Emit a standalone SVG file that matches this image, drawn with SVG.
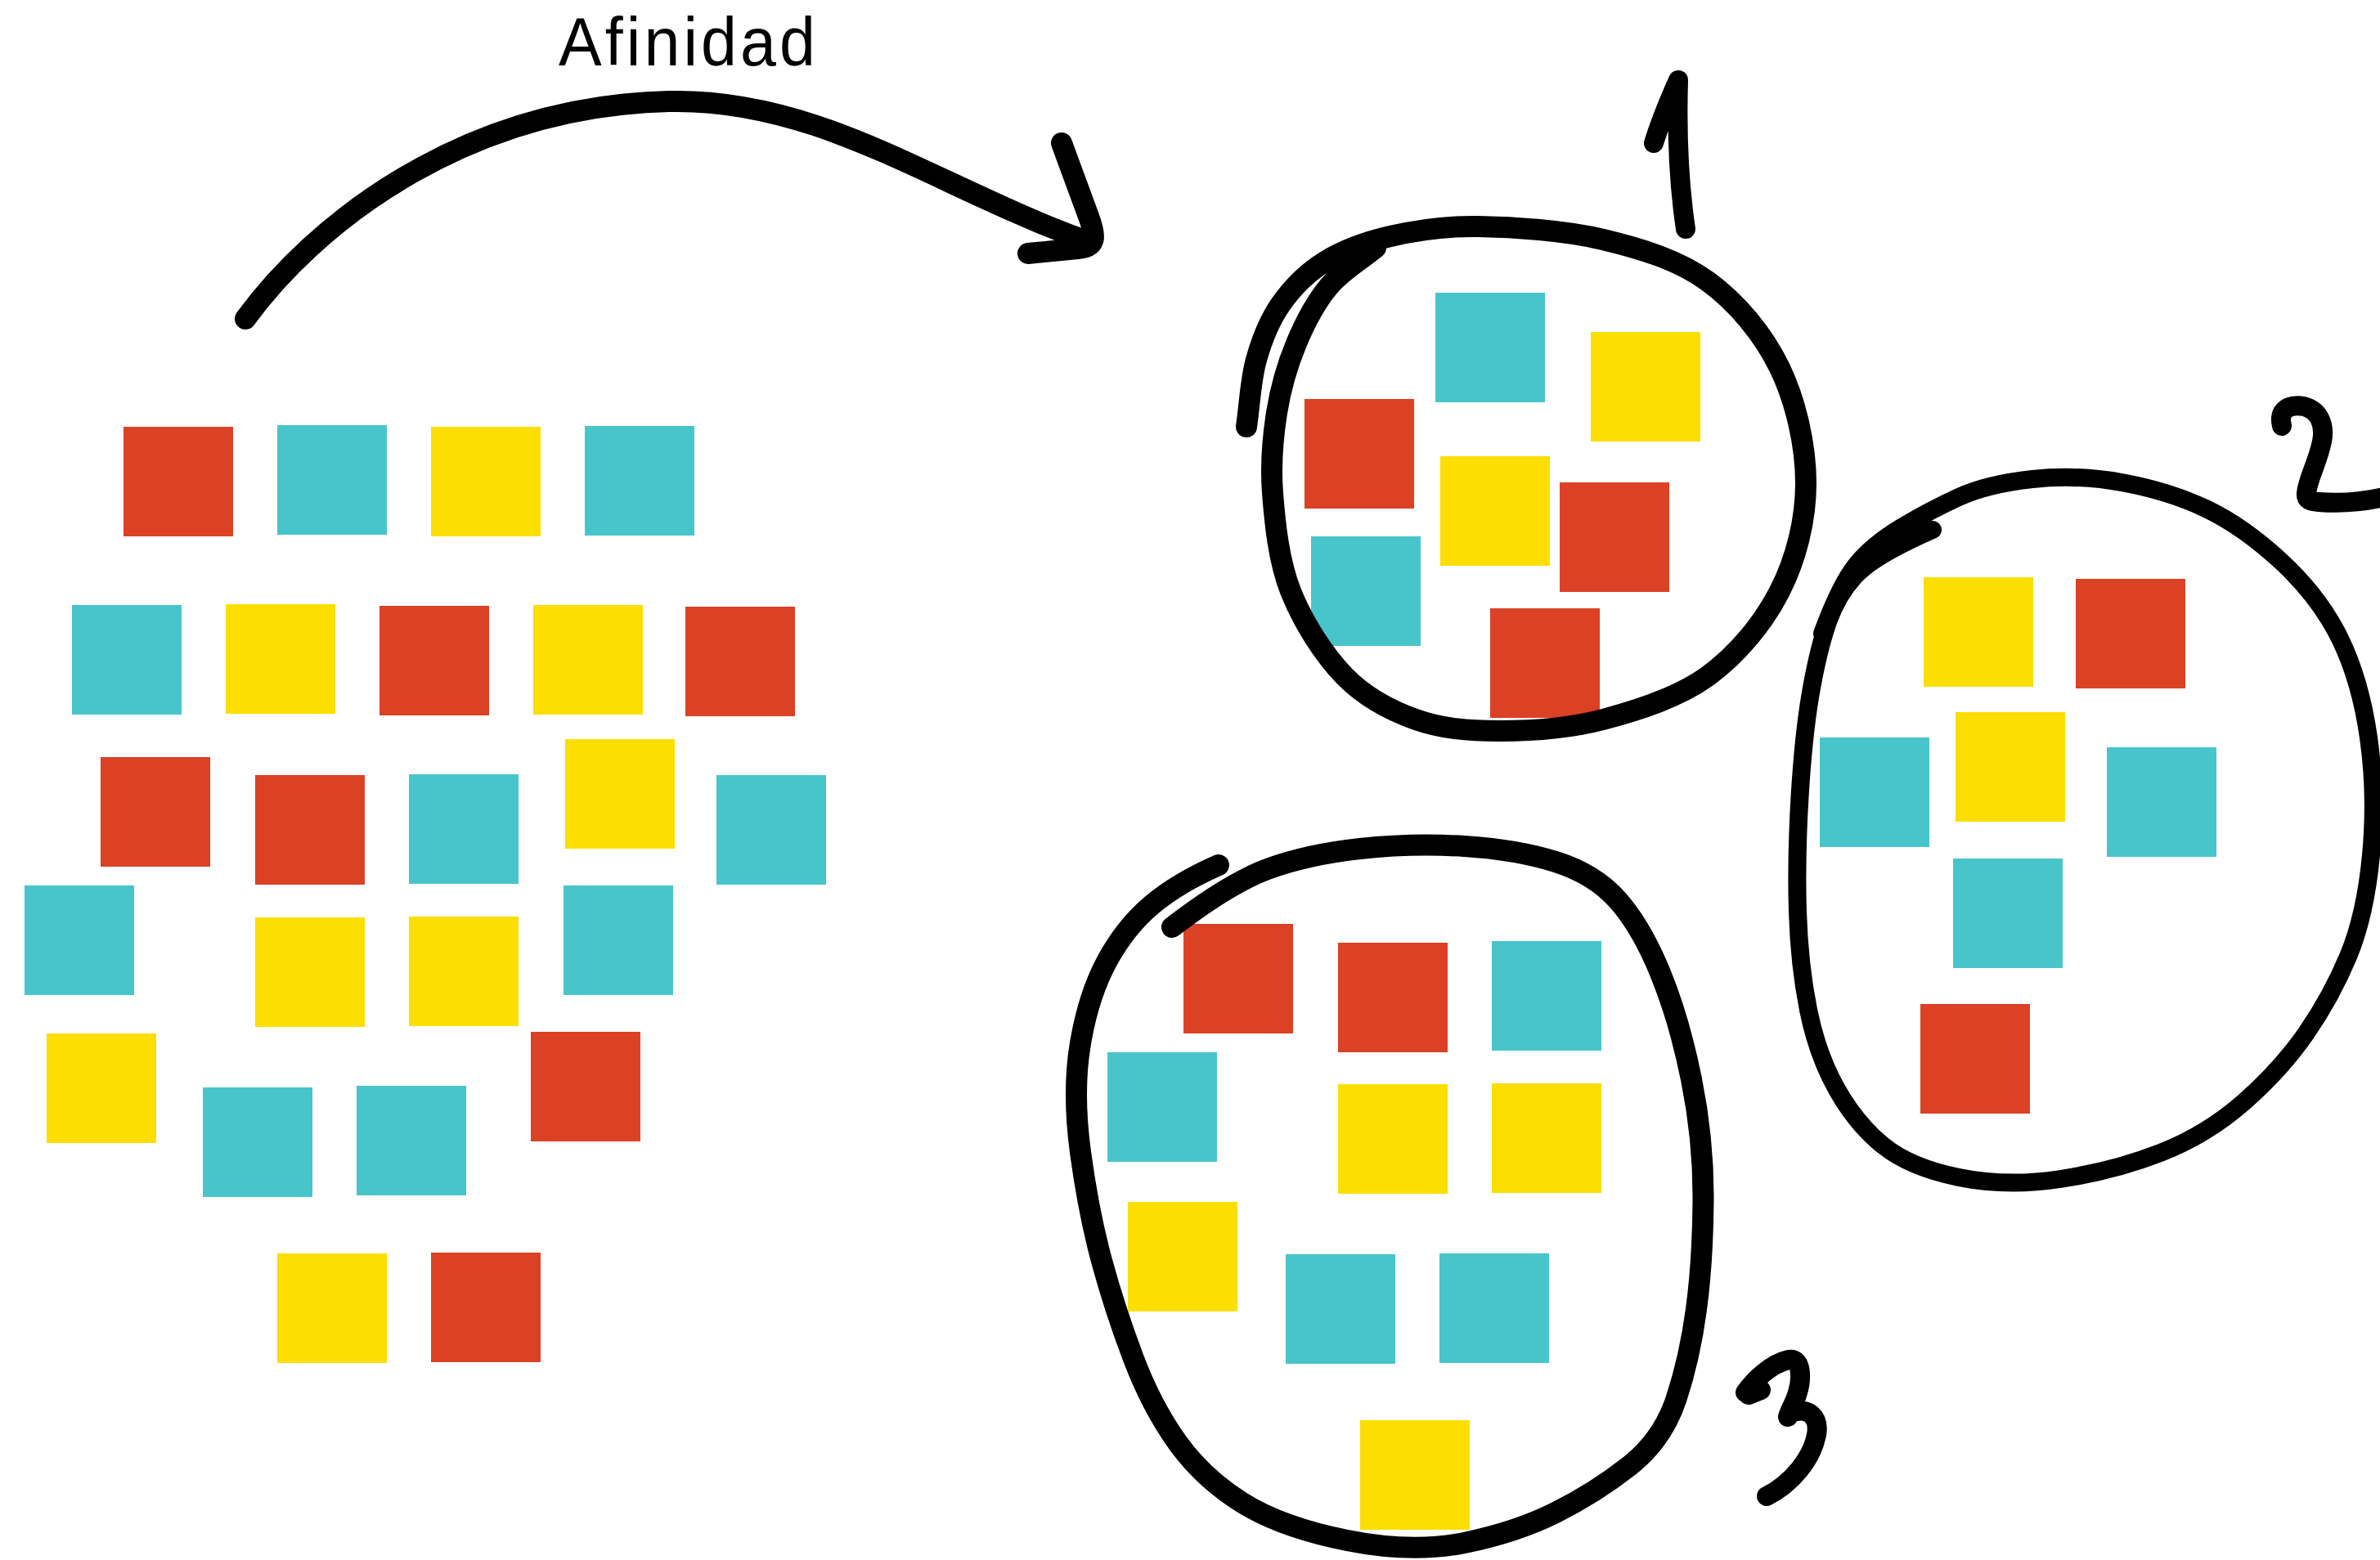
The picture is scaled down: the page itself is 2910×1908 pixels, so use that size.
<svg xmlns="http://www.w3.org/2000/svg" width="2910" height="1908" viewBox="0 0 2910 1908">
<style>
.r{fill:#DB4125}
.c{fill:#48C5CB}
.y{fill:#FCDE00}
.ink{fill:none;stroke:#000;stroke-linecap:round;stroke-linejoin:round}
.t{font-family:"Liberation Sans",Arial,sans-serif;font-size:84px;fill:#000}
</style>
<rect x="0" y="0" width="2910" height="1908" fill="#fff"/>
<text class="t" transform="scale(0.94,1)" x="726.6" y="80" textLength="334" lengthAdjust="spacing">Afinidad</text>

<g id="unsorted">
<rect class="r" x="151" y="522" width="134" height="134"/>
<rect class="c" x="339" y="520" width="134" height="134"/>
<rect class="y" x="527" y="522" width="134" height="134"/>
<rect class="c" x="715" y="521" width="134" height="134"/>
<rect class="c" x="88" y="740" width="134" height="134"/>
<rect class="y" x="276" y="739" width="134" height="134"/>
<rect class="r" x="464" y="741" width="134" height="134"/>
<rect class="y" x="652" y="740" width="134" height="134"/>
<rect class="r" x="838" y="742" width="134" height="134"/>
<rect class="r" x="123" y="926" width="134" height="134"/>
<rect class="r" x="312" y="948" width="134" height="134"/>
<rect class="c" x="500" y="947" width="134" height="134"/>
<rect class="y" x="691" y="904" width="134" height="134"/>
<rect class="c" x="876" y="948" width="134" height="134"/>
<rect class="c" x="30" y="1083" width="134" height="134"/>
<rect class="y" x="312" y="1122" width="134" height="134"/>
<rect class="y" x="500" y="1121" width="134" height="134"/>
<rect class="c" x="689" y="1083" width="134" height="134"/>
<rect class="y" x="57" y="1264" width="134" height="134"/>
<rect class="c" x="248" y="1330" width="134" height="134"/>
<rect class="c" x="436" y="1328" width="134" height="134"/>
<rect class="r" x="649" y="1262" width="134" height="134"/>
<rect class="y" x="339" y="1533" width="134" height="134"/>
<rect class="r" x="527" y="1532" width="134" height="134"/>
</g>

<g id="group1">
<rect class="c" x="1755" y="358" width="134" height="134"/>
<rect class="y" x="1945" y="406" width="134" height="134"/>
<rect class="r" x="1595" y="488" width="134" height="134"/>
<rect class="y" x="1761" y="558" width="134" height="134"/>
<rect class="r" x="1907" y="590" width="134" height="134"/>
<rect class="c" x="1603" y="656" width="134" height="134"/>
<rect class="r" x="1822" y="744" width="134" height="134"/>
<path id="loop1" class="ink" stroke-width="26" d="M1524,522 C1528,494.7 1529,465 1536,440 C1543,415 1552,392 1566,372 C1580,352 1597.7,333.8 1620,320 C1642.3,306.2 1668.8,296.2 1700,289 C1731.2,281.8 1763.7,276.3 1807,277 C1850.3,277.7 1913.2,281.8 1960,293 C2006.8,304.2 2052,317.8 2088,344 C2124,370.2 2156,408.8 2176,450 C2196,491.2 2208,545.5 2208,591 C2208,636.5 2196,683.7 2176,723 C2156,762.3 2124,800.8 2088,827 C2052,853.2 2002.5,868.8 1960,880 C1917.5,891.2 1871.2,894 1833,894 C1794.8,894 1762.5,891.2 1731,880 C1699.5,868.8 1669.5,853.2 1644,827 C1618.5,800.8 1592.7,760.3 1578,723 C1563.3,685.7 1558.8,639.3 1556,603 C1553.2,566.7 1556.2,535.5 1561,505 C1565.8,474.5 1574.3,445.8 1585,420 C1595.7,394.2 1608.8,369.5 1625,350 C1641.2,330.5 1663,318.7 1682,303"/>
<path id="num1" class="ink" stroke-width="24" d="M2022,175 Q2033,140 2052,98 Q2049,200 2061,280"/>
</g>

<g id="group2">
<rect class="y" x="2352" y="706" width="134" height="134"/>
<rect class="r" x="2538" y="708" width="134" height="134"/>
<rect class="c" x="2225" y="902" width="134" height="134"/>
<rect class="y" x="2391" y="871" width="134" height="134"/>
<rect class="c" x="2576" y="914" width="134" height="134"/>
<rect class="c" x="2388" y="1050" width="134" height="134"/>
<rect class="r" x="2348" y="1228" width="134" height="134"/>
<path id="loop2" class="ink" stroke-width="22" d="M2363,648 Q2290,680 2267.5,705 Q2245,730 2233.5,765 Q2222,800 2213.5,850 Q2205,900 2200.5,975 Q2196,1050 2198,1115 Q2200,1180 2211,1235 Q2222,1290 2246,1332.5 Q2270,1375 2303,1401.5 Q2336,1428 2395,1440 Q2454,1452 2519.5,1442 Q2585,1432 2641.5,1410 Q2698,1388 2743.5,1348 Q2789,1308 2819.5,1264 Q2850,1220 2871,1170 Q2892,1120 2899,1046 Q2906,972 2896,902 Q2886,832 2861,781 Q2836,730 2789.5,687 Q2743,644 2698,622.5 Q2653,601 2596.5,590.5 Q2540,580 2485,586 Q2430,592 2395,608 Q2360,624 2325,645 Q2290,666 2270,690.5 Q2250,715 2228,775"/>
<path id="num2" class="ink" stroke-width="24" d="M2790,521 C2785,500 2800,494 2817,497 C2836,502 2843,520 2839,540 C2834,565 2822,585 2820,603 C2819,612 2825,613 2835,614 C2860,616 2885,615 2915,608"/>
</g>

<g id="group3">
<rect class="r" x="1447" y="1130" width="134" height="134"/>
<rect class="r" x="1636" y="1153" width="134" height="134"/>
<rect class="c" x="1824" y="1151" width="134" height="134"/>
<rect class="c" x="1354" y="1287" width="134" height="134"/>
<rect class="y" x="1636" y="1326" width="134" height="134"/>
<rect class="y" x="1824" y="1325" width="134" height="134"/>
<rect class="y" x="1379" y="1470" width="134" height="134"/>
<rect class="c" x="1572" y="1534" width="134" height="134"/>
<rect class="c" x="1760" y="1533" width="134" height="134"/>
<rect class="y" x="1663" y="1737" width="134" height="134"/>
<path id="loop3" class="ink" stroke-width="26" d="M1490,1058 Q1440,1080 1408,1107 Q1376,1134 1353.5,1175.5 Q1331,1217 1321,1276 Q1311,1335 1321,1409 Q1331,1483 1347,1542 Q1363,1601 1385.5,1660.5 Q1408,1720 1439.5,1764 Q1471,1808 1519,1838 Q1567,1868 1647,1884 Q1727,1900 1790.5,1887 Q1854,1874 1902,1850 Q1950,1826 1991.5,1793.5 Q2033,1761 2049.5,1711 Q2066,1661 2074,1601.5 Q2082,1542 2082.5,1468 Q2083,1394 2068,1320 Q2053,1246 2030,1190 Q2007,1134 1978.5,1101.5 Q1950,1069 1902,1054 Q1854,1039 1790.5,1035 Q1727,1031 1663,1038 Q1599,1045 1551,1062.5 Q1503,1080 1433,1134"/>
<path id="num3" class="ink" stroke-width="24" d="M2134,1703 C2145,1688 2165,1668 2187,1663 C2205,1660 2202,1690 2198,1703 C2195,1715 2188,1725 2186,1733 M2190,1728 C2210,1720 2225,1732 2221,1755 C2215,1785 2190,1815 2160,1830 M2138,1706 L2153,1700"/>
</g>

<g id="connectors">
<path id="affinity-arrow" class="ink" stroke-width="26" d="M300,390 C380,280 560,130 818,124 C1000,120 1140,225 1318,291"/>
<path id="affinity-arrowhead" class="ink" stroke-width="26" d="M1298,175 L1330,262 C1340,288 1342,302 1318,304 L1257,310"/>
</g>
</svg>
